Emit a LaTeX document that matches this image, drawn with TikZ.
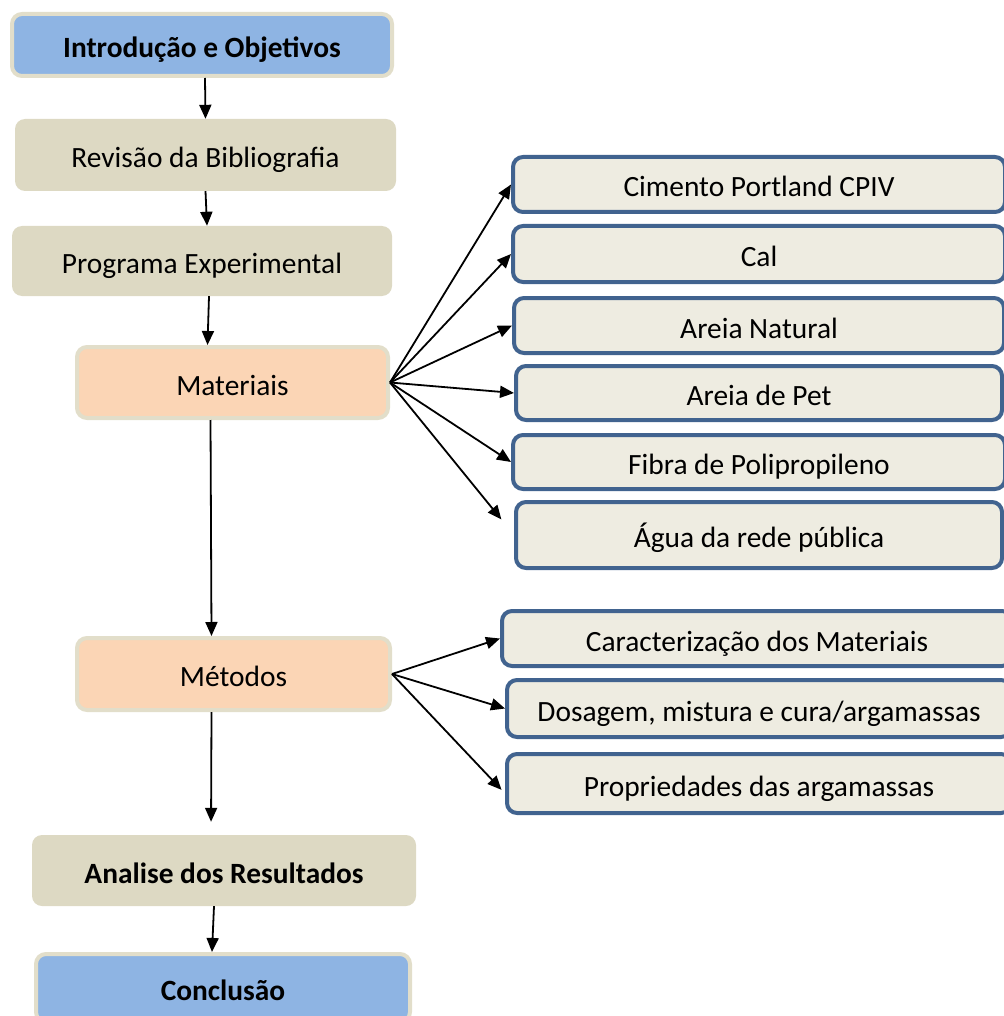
\documentclass[tikz,border=0pt]{standalone}
\usepackage{fontspec}
\setmainfont{Carlito}
\usetikzlibrary{arrows.meta}

\definecolor{skyblue}{HTML}{8EB4E3}
\definecolor{tanfill}{HTML}{DDD9C3}
\definecolor{beigeline}{HTML}{E2DECA}
\definecolor{peach}{HTML}{FBD5B5}
\definecolor{cream}{HTML}{EEECE1}
\definecolor{navyline}{HTML}{41638F}

\tikzset{
  boxbase/.style={rounded corners=10pt, align=center, inner sep=0pt,
    text height=27pt, text depth=2pt,
    font=\fontsize{29.4}{34}\selectfont},
  stage/.style={boxbase, fill=tanfill},
  keystage/.style={boxbase, fill=skyblue, draw=beigeline, line width=4pt,
    font=\bfseries\fontsize{29.4}{34}\selectfont},
  part/.style={boxbase, fill=peach, draw=beigeline, line width=4pt},
  listbox/.style={boxbase, fill=cream, draw=navyline, line width=4pt},
  arr/.style={-{Triangle[length=14pt,width=12pt]}, line width=1.8pt}
}

\begin{document}
\begin{tikzpicture}[x=1pt, y=-1pt]
    \useasboundingbox (0,0) rectangle (1003,1016);

    % Main column
    \node[keystage, minimum width=380pt, minimum height=62pt] (intro) at (202,45) {Introdução e Objetivos};
    \node[stage, minimum width=381pt, minimum height=72pt] (rev) at (205.5,155) {Revisão da Bibliografia};
    \node[stage, minimum width=380pt, minimum height=70pt] (prog) at (202,261) {Programa Experimental};
    \node[part, minimum width=311pt, minimum height=71pt] (mat) at (232.5,382.5) {Materiais};
    \node[part, minimum width=313pt, minimum height=72pt] (met) at (233.5,674) {Métodos};
    \node[stage, minimum width=384pt, minimum height=71pt, font=\bfseries\fontsize{29.4}{34}\selectfont] (ana) at (224,870.5) {Analise dos Resultados};
    \node[keystage, minimum width=374pt, minimum height=68pt] (conc) at (223,988) {Conclusão};

    % Materials
    \node[listbox, minimum width=492pt, minimum height=55pt] (cim) at (759,184.5) {Cimento Portland CPIV};
    \node[listbox, minimum width=492pt, minimum height=56pt] (cal) at (759,254) {Cal};
    \node[listbox, minimum width=490pt, minimum height=55pt] (nat) at (759,325.5) {Areia Natural};
    \node[listbox, minimum width=486pt, minimum height=54pt] (pet) at (759,393) {Areia de Pet};
    \node[listbox, minimum width=492pt, minimum height=54pt] (fib) at (759,462) {Fibra de Polipropileno};
    \node[listbox, minimum width=486pt, minimum height=66pt] (agua) at (759,535) {Água da rede pública};

    % Methods
    \node[listbox, minimum width=510pt, minimum height=55pt] (car) at (757,638.5) {Caracterização dos Materiais};
    \node[listbox, minimum width=504pt, minimum height=57pt] (dos) at (759,708.5) {Dosagem, mistura e cura/argamassas};
    \node[listbox, minimum width=504pt, minimum height=59pt] (prop) at (759,783.5) {Propriedades das argamassas};

    % Flow down
    \draw[arr] ([xshift=3pt]intro.south) -- (rev.north);
    \draw[arr] (rev.south) -- ([xshift=5pt]prog.north);
    \draw[arr] ([xshift=7pt]prog.south) -- ([xshift=-25pt]mat.north);
    \draw[arr] ([xshift=-22pt]mat.south) -- ([xshift=-22pt]met.north);
    \draw[arr, shorten >=13pt] ([xshift=-22pt]met.south) -- ([xshift=-13pt]ana.north);
    \draw[arr] ([xshift=-10pt]ana.south) -- ([xshift=-11pt]conc.north);

    % Fan to materials
    \foreach \m in {cim, cal, nat, pet, fib}
        \draw[arr] (mat.east) -- (\m.west);
    \draw[arr, shorten >=20pt] (mat.east) -- (agua.west);

    % Fan to methods
    \draw[arr] (met.east) -- (car.west);
    \draw[arr] (met.east) -- (dos.west);
    \draw[arr, shorten >=5pt] (met.east) -- ([yshift=-10pt]prop.west);
\end{tikzpicture}
\end{document}
